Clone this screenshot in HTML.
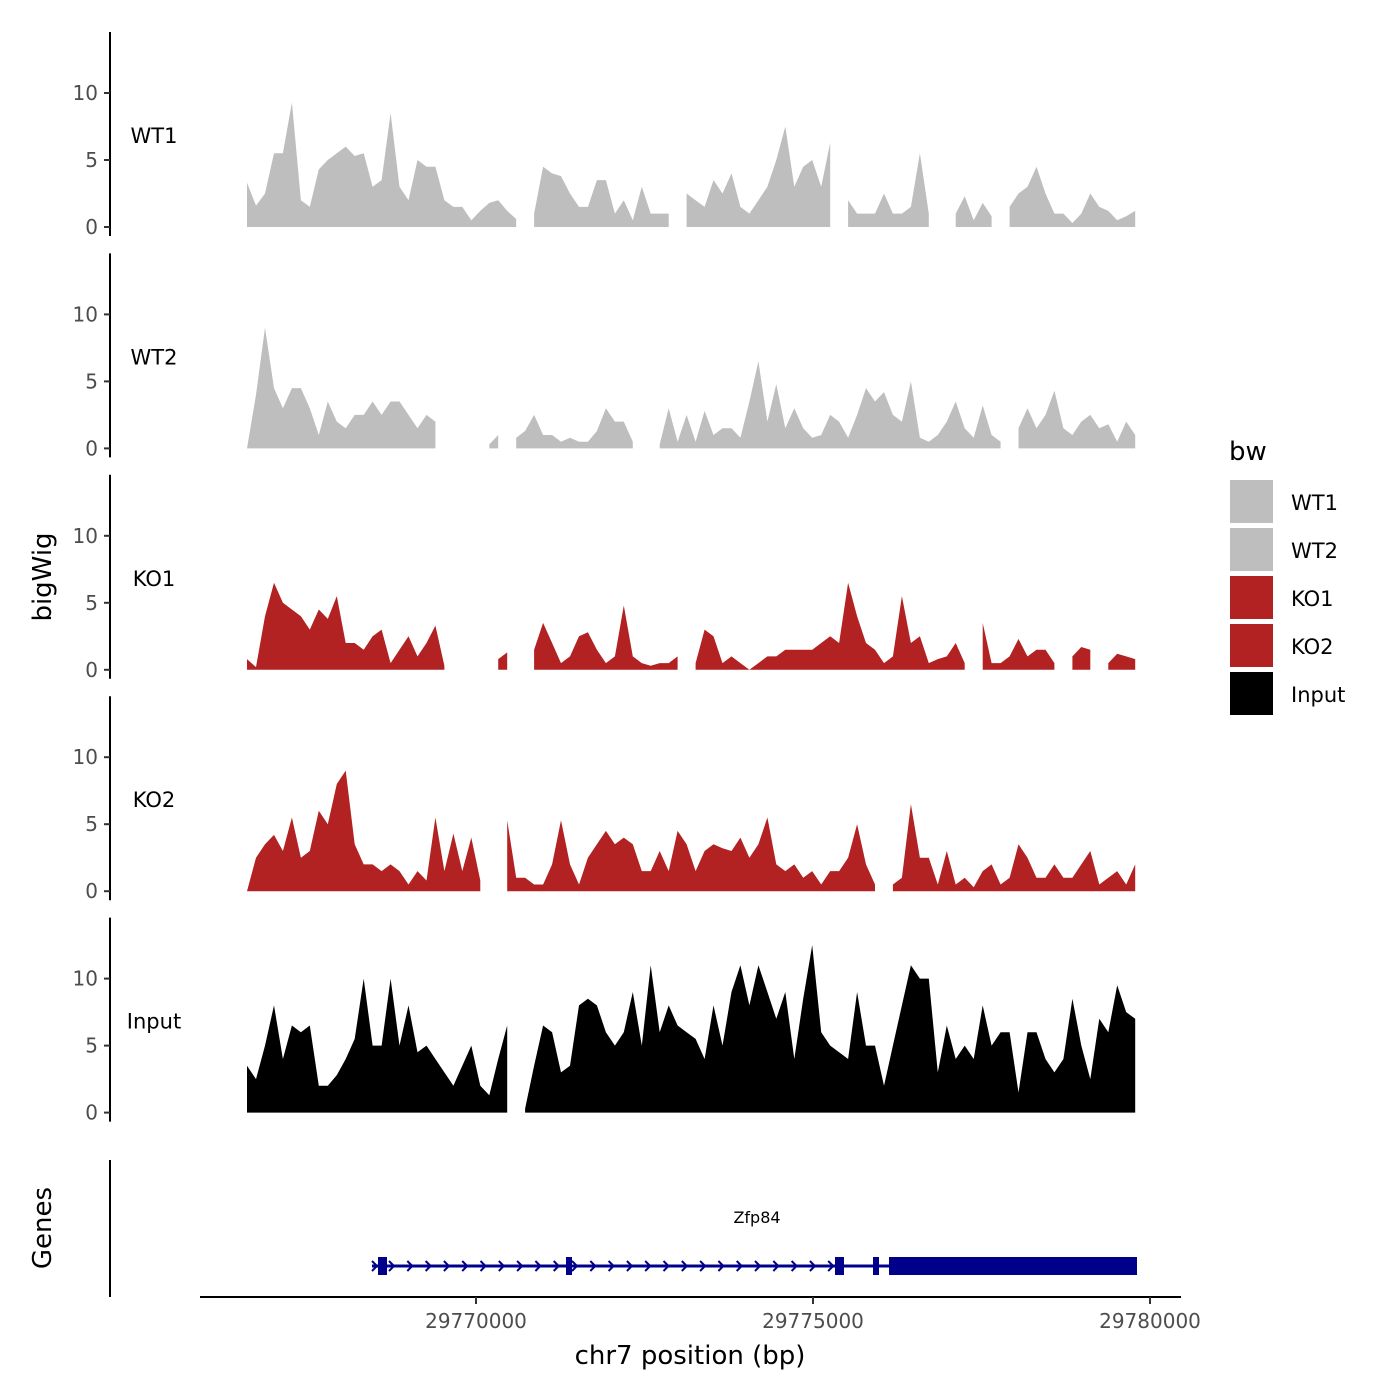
<!DOCTYPE html>
<html><head><meta charset="utf-8"><style>
body{margin:0;background:#fff;}
svg{display:block;font-family:"DejaVu Sans","Liberation Sans",sans-serif;}
</style></head><body>
<svg id="chart" width="1400" height="1400" viewBox="0 0 1400 1400">
<text x="42" y="577" font-size="26" text-anchor="middle" transform="rotate(-90 42 577)" dy="9">bigWig</text>
<text x="42" y="1228" font-size="26" text-anchor="middle" transform="rotate(-90 42 1228)" dy="9">Genes</text>
<g>
<text x="1229" y="460" font-size="26">bw</text>
</g>
<line x1="110" y1="1160" x2="110" y2="1297" stroke="#000" stroke-width="2"/>
<line x1="200" y1="1297" x2="1181" y2="1297" stroke="#000" stroke-width="2"/>
<text x="690" y="1364" font-size="26" text-anchor="middle">chr7 position (bp)</text>
<g id="gene"></g>
</svg>
<script>
const tracks = ["WT1","WT2","KO1","KO2","Input"];
const trackColors = ["#bebebe","#bebebe","#b22222","#b22222","#000000"];
const yTicks = [0,5,10];
const xTicks = [29770000,29775000,29780000];
const binStart = 29766603;
const binStep = 133.1;
const wt1 = [3.3,1.6,2.5,5.5,5.5,9.3,2.0,1.5,4.3,5.0,5.5,6.0,5.3,5.5,3,3.5,8.5,3,2,5,4.5,4.5,2,1.5,1.5,0.5,1.2,1.8,2.0,1.2,0.6,null,1,4.5,4,3.8,2.5,1.5,1.5,3.5,3.5,1,2,0.5,3,1,1,1,null,2.5,2,1.5,3.5,2.5,4.0,1.5,1,2,3,5,7.5,3,4.5,5,3,6.3,null,2,1,1,1,2.5,1,1,1.5,5.5,1,null,null,1,2.3,0.5,1.8,0.8,null,1.5,2.5,3,4.5,2.5,1,1,0.3,1,2.5,1.5,1.2,0.5,0.8,1.2];
const wt2 = [0,4,9,4.5,3,4.5,4.5,3,1,3.5,2,1.5,2.5,2.5,3.5,2.5,3.5,3.5,2.5,1.5,2.5,2,null,null,null,null,null,0.3,1.0,null,0.8,1.3,2.5,1,1,0.5,0.8,0.5,0.5,1.3,3,2,2,0.5,null,null,0.3,3,0.5,2.5,0.5,2.8,1,1.5,1.5,0.8,3.5,6.5,2,4.8,1.5,3,1.5,0.8,1,2.5,2,0.8,2.5,4.5,3.5,4.2,2.5,2,5,0.8,0.5,1,2,3.5,1.5,0.8,3.2,1,0.5,null,1.5,3,1.5,2.5,4.3,1.5,1,2,2.5,1.5,1.8,0.5,2,1];
const ko1 = [0.8,0.2,4,6.5,5,4.5,4,3,4.5,3.8,5.5,2,2,1.5,2.5,3,0.5,1.5,2.5,1,2,3.3,0.3,null,null,null,null,null,0.8,1.3,null,null,1.5,3.5,2,0.5,1,2.5,2.8,1.5,0.5,1,4.8,1,0.5,0.3,0.5,0.5,1,null,0.5,3,2.5,0.5,1,0.5,0,0.5,1,1,1.5,1.5,1.5,1.5,2,2.5,2,6.5,4,2,1.5,0.5,1,5.5,2,2.5,0.5,0.8,1,2,0.5,null,3.5,0.5,0.5,1,2.3,1,1.5,1.5,0.5,null,1,1.7,1.5,null,0.5,1.2,1,0.8];
const ko2 = [0,2.5,3.5,4.2,3,5.5,2.5,3,6,5,8,9,3.5,2,2,1.5,2,1.5,0.5,1.5,0.8,5.5,1.5,4.3,1.5,4,0.8,null,null,5.3,1,1,0.5,0.5,2,5.3,2,0.5,2.5,3.5,4.5,3.5,4,3.5,1.5,1.5,3,1.5,4.5,3.5,1.5,3,3.5,3.2,3,4,2.5,3.5,5.5,2,1.5,2,1,1.5,0.5,1.5,1.5,2.5,5,2,0.5,null,0.5,1,6.5,2.5,2.5,0.5,3,0.5,1,0.3,1.5,2,0.5,1,3.5,2.5,1,1,2,1,1,2,3,0.5,1,1.5,0.5,2];
const input = [3.5,2.5,5,8,4,6.5,6,6.5,2,2,2.8,4,5.5,10,5,5,10,5,8,4.5,5,4,3,2,3.5,5,2,1.3,4,6.5,null,0.3,3.5,6.5,6,3,3.5,8,8.5,8,6,5,6,9,5,11,6,8,6.5,6,5.5,4,8,5,9,11,8,11,9,7,9,4,8.5,12.5,6,5,4.5,4,9,5,5,2,5,8,11,10,10,3,6.5,4,5,4,8,5,6,6,1.5,6,6,4,3,4,8.5,5,2.5,7,6,9.5,7.5,7];
const series = [wt1,wt2,ko1,ko2,input];

const NS="http://www.w3.org/2000/svg";
const svg=document.getElementById('chart');
const xScale=bp=>476+(bp-29770000)*(337/5000);
const unit=13.4;
function mk(tag,attrs,parent){const e=document.createElementNS(NS,tag);for(const k in attrs)e.setAttribute(k,attrs[k]);(parent||svg).appendChild(e);return e;}

tracks.forEach((name,t)=>{
  const zero=227+t*221.4;
  const y=v=>zero-v*unit;
  const g=mk('g',{});
  
  
  const vals=series[t];
  let seg=[];
  const flush=()=>{
    if(!seg.length)return;
    let pts=[];
    if(seg.length===1){const s=seg[0];pts=[[s[0]-3,zero],[s[0],y(s[1])],[s[0]+3,zero]];}
    else{pts.push([seg[0][0],zero]);seg.forEach(s=>pts.push([s[0],y(s[1])]));pts.push([seg[seg.length-1][0],zero]);}
    const p=mk('polygon',{points:pts.map(q=>q[0].toFixed(1)+','+q[1].toFixed(1)).join(' '),fill:trackColors[t]},g);
    
    
    seg=[];
  };
  vals.forEach((v,i)=>{const x=xScale(binStart+i*binStep);if(v===null)flush();else seg.push([x,v]);});
  flush();
  const ax=mk('line',{x1:110,y1:zero-195,x2:110,y2:zero+9,stroke:'#000','stroke-width':2},g);
  
  
  yTicks.forEach(v=>{
    mk('line',{x1:104,y1:y(v),x2:110,y2:y(v),stroke:'#333','stroke-width':2},g);
    const tx=mk('text',{x:98,y:y(v)+7,'font-size':20,'text-anchor':'end',fill:'#4d4d4d'},g);
    tx.textContent=v;
    
    
  });
  const lb=mk('text',{x:154,y:zero-92+8,'font-size':21,'text-anchor':'middle'},g);
  lb.textContent=name;
  
  
  const ly=480+t*48;
  const r=mk('rect',{x:1230,y:ly,width:43,height:43,fill:trackColors[t]});
  
  
  const lt=mk('text',{x:1291,y:ly+30,'font-size':21});
  lt.textContent=name;
  
  
});

xTicks.forEach(v=>{
  const x=xScale(v);
  mk('line',{x1:x,y1:1297,x2:x,y2:1304,stroke:'#333','stroke-width':2});
  const tx=mk('text',{x:x,y:1328,'font-size':20,'text-anchor':'middle',fill:'#4d4d4d'});
  tx.textContent=v;
  
  
});

const gg=document.getElementById('gene');
const navy='#00008b';
mk('line',{x1:372,y1:1266,x2:1137,y2:1266,stroke:navy,'stroke-width':3},gg);
[[378,387],[566,572],[835,844],[873,879],[889,1137]].forEach(e=>{
  const r=mk('rect',{x:e[0],y:1257,width:e[1]-e[0],height:18,fill:navy},gg);
  
  
});
for(let x=392;x<832;x+=18.3){
  mk('polyline',{points:`${x-3},1261 ${x+2},1266 ${x-3},1271`,fill:'none',stroke:navy,'stroke-width':2},gg);
}
mk('polyline',{points:`372,1261 377,1266 372,1271`,fill:'none',stroke:navy,'stroke-width':2},gg);
const gl=mk('text',{x:757,y:1223,'font-size':16,'text-anchor':'middle'},gg);
gl.textContent='Zfp84';


</script>
</body></html>
